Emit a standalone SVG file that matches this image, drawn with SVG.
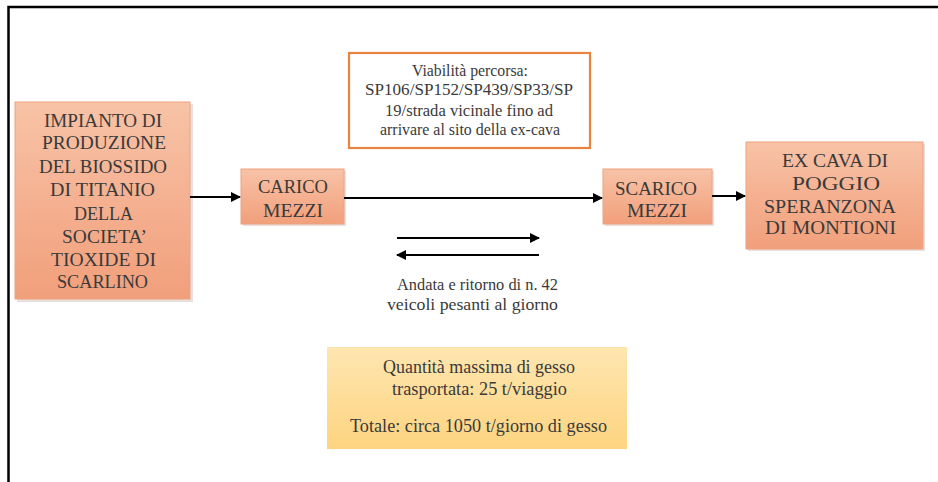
<svg xmlns="http://www.w3.org/2000/svg" width="938" height="482" viewBox="0 0 938 482">
<defs>
<linearGradient id="salmon" x1="0" y1="0" x2="0" y2="1">
<stop offset="0" stop-color="#f8c3a7"/>
<stop offset="1" stop-color="#f19f7b"/>
</linearGradient>
<linearGradient id="yellow" x1="0" y1="0" x2="0" y2="1">
<stop offset="0" stop-color="#fee6b0"/>
<stop offset="1" stop-color="#fdd480"/>
</linearGradient>
<marker id="ah" viewBox="0 0 10 10" refX="9" refY="5" markerWidth="12" markerHeight="10" markerUnits="userSpaceOnUse" orient="auto">
<path d="M0,0 L10,5 L0,10 z" fill="#000"/>
</marker>
<style>
.box{fill:url(#salmon);stroke:#eea27f;stroke-width:1}
.shadow{fill:#e8e0dc}
text{font-family:'Liberation Serif','Times New Roman','DejaVu Serif',serif;fill:#3a3a3a;text-anchor:middle}
.big{font-size:19px}
.mid{font-size:17px}
.ye{font-size:18px}
.sm{font-size:16px}
.conn{stroke:#000;stroke-width:2.2;fill:none;marker-end:url(#ah)}
</style>
</defs>
<rect width="938" height="482" fill="#fff"/>
<g id="frame">
<path d="M8.5,482 L8.5,7 L938,7" fill="none" stroke="#000" stroke-width="2.5"/>
</g>
<g id="impianto">
<rect class="shadow" x="17" y="104" width="176" height="198"/>
<rect class="box" x="15" y="102" width="175" height="197"/>
<text class="big" x="103" y="127" textLength="118" lengthAdjust="spacingAndGlyphs">IMPIANTO DI</text>
<text class="big" x="104" y="149" textLength="124" lengthAdjust="spacingAndGlyphs">PRODUZIONE</text>
<text class="big" x="103" y="173" textLength="128" lengthAdjust="spacingAndGlyphs">DEL BIOSSIDO</text>
<text class="big" x="102.5" y="196" textLength="105" lengthAdjust="spacingAndGlyphs">DI TITANIO</text>
<text class="big" x="103.5" y="220" textLength="59" lengthAdjust="spacingAndGlyphs">DELLA</text>
<text class="big" x="104.5" y="243" textLength="85" lengthAdjust="spacingAndGlyphs">SOCIETA’</text>
<text class="big" x="103.5" y="266" textLength="105" lengthAdjust="spacingAndGlyphs">TIOXIDE DI</text>
<text class="big" x="102.5" y="288" textLength="91" lengthAdjust="spacingAndGlyphs">SCARLINO</text>
</g>
<g id="carico">
<rect class="shadow" x="243" y="171" width="103" height="55"/>
<rect class="box" x="241" y="169" width="103" height="55"/>
<text class="big" x="293" y="193" textLength="70" lengthAdjust="spacingAndGlyphs">CARICO</text>
<text class="big" x="293" y="217" textLength="60" lengthAdjust="spacingAndGlyphs">MEZZI</text>
</g>
<g id="scarico">
<rect class="shadow" x="605" y="171" width="109" height="55"/>
<rect class="box" x="603" y="169" width="109" height="55"/>
<text class="big" x="656" y="195" textLength="82" lengthAdjust="spacingAndGlyphs">SCARICO</text>
<text class="big" x="657" y="217" textLength="60" lengthAdjust="spacingAndGlyphs">MEZZI</text>
</g>
<g id="excava">
<rect class="shadow" x="748" y="144" width="177" height="107"/>
<rect class="box" x="746" y="142" width="177" height="107"/>
<text class="big" x="835" y="167" textLength="106" lengthAdjust="spacingAndGlyphs">EX CAVA DI</text>
<text class="big" x="836" y="190" textLength="88" lengthAdjust="spacingAndGlyphs">POGGIO</text>
<text class="big" x="830" y="213" textLength="132" lengthAdjust="spacingAndGlyphs">SPERANZONA</text>
<text class="big" x="830.5" y="234" textLength="131" lengthAdjust="spacingAndGlyphs">DI MONTIONI</text>
</g>
<g id="viabilita">
<rect x="349" y="53" width="241" height="95" fill="#fff" stroke="#e8843f" stroke-width="2.2"/>
<text class="sm" x="470" y="76" textLength="116" lengthAdjust="spacingAndGlyphs">Viabilità percorsa:</text>
<text class="sm" x="469" y="95" textLength="208" lengthAdjust="spacingAndGlyphs">SP106/SP152/SP439/SP33/SP</text>
<text class="sm" x="469" y="116" textLength="168" lengthAdjust="spacingAndGlyphs">19/strada vicinale fino ad</text>
<text class="sm" x="470" y="135" textLength="180" lengthAdjust="spacingAndGlyphs">arrivare al sito della ex-cava</text>
</g>
<g id="andata">
<text class="mid" x="477.5" y="290" textLength="161" lengthAdjust="spacingAndGlyphs">Andata e ritorno di n. 42</text>
<text class="mid" x="472.5" y="310" textLength="171" lengthAdjust="spacingAndGlyphs">veicoli pesanti al giorno</text>
</g>
<g id="quantita">
<rect x="327" y="347" width="300" height="102" fill="url(#yellow)"/>
<text class="ye" x="479" y="373" textLength="192" lengthAdjust="spacingAndGlyphs">Quantità massima di gesso</text>
<text class="ye" x="479.5" y="395" textLength="175" lengthAdjust="spacingAndGlyphs">trasportata: 25 t/viaggio</text>
<text class="ye" x="478.5" y="432" textLength="257" lengthAdjust="spacingAndGlyphs">Totale: circa 1050 t/giorno di gesso</text>
</g>
<g id="connectors">
<line class="conn" x1="190" y1="197" x2="240" y2="197"/>
<line class="conn" x1="344" y1="198" x2="602" y2="198"/>
<line class="conn" x1="712" y1="196" x2="745" y2="196"/>
<line class="conn" x1="397" y1="238" x2="539" y2="238"/>
<line class="conn" x1="539" y1="255" x2="397" y2="255"/>
</g>
</svg>
